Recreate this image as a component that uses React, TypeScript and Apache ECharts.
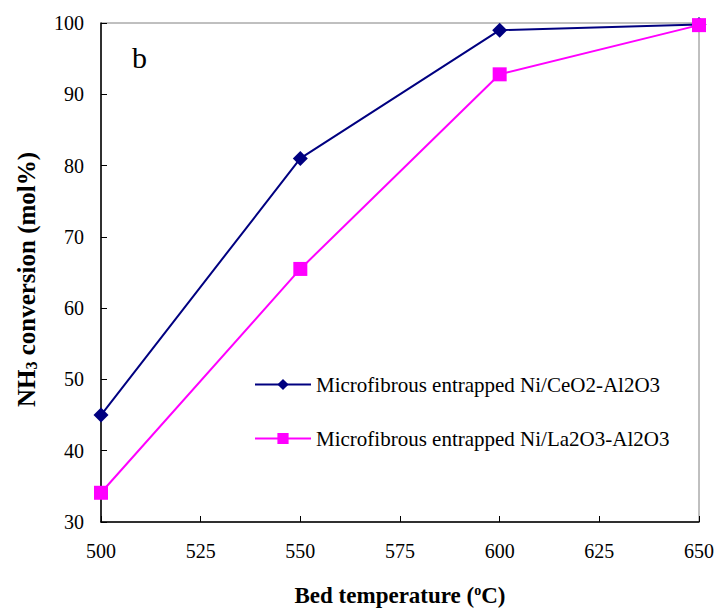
import React, { useEffect, useRef } from "react";
import * as echarts from "echarts";

const temperatures = [500, 550, 600, 650];
const ceriaSeries = [45, 81, 99, 99.8];
const lanthanaSeries = [34.1, 65.5, 92.8, 99.7];
const seriesNames = [
  "Microfibrous entrapped Ni/CeO2-Al2O3",
  "Microfibrous entrapped Ni/La2O3-Al2O3",
];

const FONT = "'Liberation Serif', 'Times New Roman', 'DejaVu Serif', serif";

export default function App() {
  const ref = useRef<HTMLDivElement>(null);
  useEffect(() => {
    document.body.style.margin = "0";
    const chart = echarts.init(ref.current!, undefined, { renderer: "svg" });
    chart.setOption({
      animation: false,
      backgroundColor: "#fff",
      textStyle: { fontFamily: FONT },
      grid: {
        left: 101,
        right: 21,
        top: 23,
        bottom: 91,
        outerBoundsMode: "none",
        containLabel: false,
        show: true,
        borderColor: "#808080",
        borderWidth: 1,
        backgroundColor: "transparent",
      },
      legend: {
        orient: "vertical",
        left: 249,
        top: 369,
        itemWidth: 56,
        itemHeight: 14,
        itemGap: 33,
        textStyle: { fontFamily: FONT, fontSize: 21, color: "#000" },
        data: seriesNames,
      },
      graphic: [
        {
          type: "text",
          left: 132,
          top: 42,
          style: { text: "b", font: `30px ${FONT}`, fill: "#000" },
        },
      ],
      xAxis: {
        type: "value",
        min: 500,
        max: 650,
        interval: 25,
        splitLine: { show: false },
        axisLine: { lineStyle: { color: "#000", width: 1.5 } },
        axisTick: { inside: true, length: 6, lineStyle: { color: "#000" } },
        axisLabel: { color: "#000", fontSize: 20, fontFamily: FONT, margin: 19 },
        name: "{a|Bed temperature (}{s|o}{a|C)}",
        nameLocation: "middle",
        nameGap: 61,
        nameTextStyle: {
          rich: {
            a: { fontFamily: FONT, fontSize: 23, fontWeight: "bold", color: "#000" },
            s: { fontFamily: FONT, fontSize: 14, fontWeight: "bold", color: "#000", padding: [0, 0, 11, 0] },
          },
        },
      },
      yAxis: {
        type: "value",
        min: 30,
        max: 100,
        interval: 10,
        splitLine: { show: false },
        axisLine: { lineStyle: { color: "#000", width: 1.5 } },
        axisTick: { inside: true, length: 6, lineStyle: { color: "#000" } },
        axisLabel: { color: "#000", fontSize: 20, fontFamily: FONT, margin: 17 },
        name: "{a|NH}{s|3}{a| conversion (mol%)}",
        nameLocation: "middle",
        nameRotate: 90,
        nameGap: 62,
        nameTextStyle: {
          padding: [0, 14, 0, 0],
          rich: {
            a: { fontFamily: FONT, fontSize: 25, fontWeight: "bold", color: "#000" },
            s: { fontFamily: FONT, fontSize: 16, fontWeight: "bold", color: "#000", padding: [10, 0, 0, 0] },
          },
        },
      },
      series: [
        {
          name: seriesNames[0],
          type: "line",
          data: temperatures.map((t, i) => [t, ceriaSeries[i]]),
          symbol: "diamond",
          symbolSize: 15,
          lineStyle: { color: "#000080", width: 2 },
          itemStyle: { color: "#000080" },
        },
        {
          name: seriesNames[1],
          type: "line",
          data: temperatures.map((t, i) => [t, lanthanaSeries[i]]),
          symbol: "rect",
          symbolSize: 14,
          lineStyle: { color: "#FF00FF", width: 2 },
          itemStyle: { color: "#FF00FF" },
        },
      ],
    });
    return () => chart.dispose();
  }, []);
  return <div ref={ref} style={{ width: 720, height: 613 }} />;
}
